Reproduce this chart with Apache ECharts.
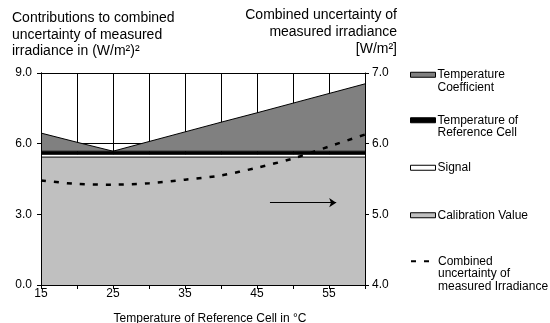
<!DOCTYPE html>
<html>
<head>
<meta charset="utf-8">
<script src="https://cdn.jsdelivr.net/npm/echarts@6/dist/echarts.min.js"></script>
<style>html,body{margin:0;padding:0;background:#fff}#c{width:550px;height:323px}</style>
</head>
<body>
<div id="c"></div>
<script>
// ---- data ----
var temps = [15, 20, 25, 30, 35, 40, 45, 50, 55, 60];
var calibrationValue = [5.43, 5.43, 5.43, 5.43, 5.43, 5.43, 5.43, 5.43, 5.43, 5.43];
var signalValue = [0.12, 0.12, 0.12, 0.12, 0.12, 0.12, 0.12, 0.12, 0.12, 0.12];
var refCellTemp = [0.13, 0.13, 0.13, 0.13, 0.13, 0.13, 0.13, 0.13, 0.13, 0.13];
var tempCoefficient = [0.77, 0.38, 0.0, 0.41, 0.82, 1.23, 1.63, 2.04, 2.45, 2.86];
var combinedUncertainty = [5.48, 5.43, 5.42, 5.44, 5.49, 5.55, 5.66, 5.79, 5.96, 6.13];
var xTickLabels = ['15', '25', '35', '45', '55'];
var leftTicks = [0, 3, 6, 9];
var rightTicks = [4, 5, 6, 7];
var arrowX = [46.8, 56];
var arrowYRight = 5.165;

var FONT = '"Liberation Sans", Arial, sans-serif';
var chart = echarts.init(document.getElementById('c'), null, { renderer: 'canvas' });

function legendFor(name, icon, itemStyle, lines, top, extra) {
  var pre = [];
  for (var i = 1; i < lines.length; i++) pre.push(' ');
  var txt = pre.concat(lines).join('\n');
  var item = { name: name };
  if (icon) item.icon = icon;
  if (itemStyle) item.itemStyle = itemStyle;
  var o = {
    show: true, orient: 'vertical', left: 410, top: top, padding: 0,
    itemWidth: 25, itemHeight: 5, selectedMode: false,
    data: [item],
    formatter: function () { return txt; },
    textStyle: { fontFamily: FONT, fontSize: 12, color: '#000', lineHeight: 12.5, padding: [0, 0, 0, -3] }
  };
  return Object.assign(o, extra || {});
}

var option = {
  animation: false,
  textStyle: { fontFamily: FONT },
  grid: { left: 41, right: 185, top: 73, bottom: 38, containLabel: false, outerBoundsMode: 'none' },
  graphic: [
    { type: 'text', left: 12, top: 10, style: { text: 'Contributions to combined\nuncertainty of measured\nirradiance in (W/m\u00b2)\u00b2', font: '14px ' + FONT, fill: '#000', lineHeight: 16.5 } },
    { type: 'text', x: 397, y: 7, style: { text: 'Combined uncertainty of\nmeasured irradiance\n[W/m\u00b2]', font: '14px ' + FONT, fill: '#000', lineHeight: 17, align: 'right', verticalAlign: 'top' } }
  ],
  legend: [
    legendFor('Temperature Coefficient', 'rect', { color: '#808080', borderColor: '#000', borderWidth: 1 }, ['Temperature', 'Coefficient'], 56),
    legendFor('Temperature of Reference Cell', 'rect', { color: '#000', borderColor: '#000', borderWidth: 1 }, ['Temperature of', 'Reference Cell'], 101.5),
    legendFor('Signal', 'rect', { color: '#fff', borderColor: '#000', borderWidth: 1 }, ['Signal'], 161.5),
    legendFor('Calibration Value', 'rect', { color: '#C0C0C0', borderColor: '#000', borderWidth: 1 }, ['Calibration Value'], 209),
    legendFor('Combined uncertainty of measured Irradiance', null, { opacity: 0 }, ['Combined', 'uncertainty of', 'measured Irradiance'], 230, { itemHeight: 8 })
  ],
  xAxis: [
    {
      type: 'category', data: temps.map(String), boundaryGap: false, position: 'bottom',
      axisLine: { show: true, lineStyle: { color: '#000', width: 1 } },
      axisTick: { show: true, inside: false, length: 4, interval: 0, lineStyle: { color: '#000' } },
      axisLabel: { margin: 3, fontSize: 12, color: '#000', fontFamily: FONT, interval: 0,
        formatter: function (v) { return xTickLabels.indexOf(v) >= 0 ? v : ''; } },
      splitLine: { show: true, interval: 0, lineStyle: { color: '#000', width: 1 } },
      name: 'Temperature of Reference Cell in \u00b0C', nameLocation: 'middle', nameGap: 28,
      nameTextStyle: { fontSize: 12, color: '#000', fontFamily: FONT, padding: [0, 0, 0, 14] }
    },
    {
      type: 'value', min: 15, max: 60, interval: 5, position: 'bottom', z: 10,
      axisLine: { show: true, lineStyle: { color: '#000', width: 1 } },
      axisTick: { show: true, length: 4, lineStyle: { color: '#000' } },
      axisLabel: { show: false }, splitLine: { show: false }
    }
  ],
  yAxis: [
    {
      type: 'value', min: 0, max: 9, interval: 3, position: 'left',
      axisLine: { show: true, lineStyle: { color: '#000' } },
      axisTick: { show: true, length: 4, lineStyle: { color: '#000' } },
      axisLabel: { margin: 9, fontSize: 12, color: '#000', fontFamily: FONT,
        formatter: function (v) { return leftTicks.indexOf(v) >= 0 ? v.toFixed(1) : ''; } },
      splitLine: { show: true, lineStyle: { color: '#000', width: 1 } }
    },
    {
      type: 'value', min: 4, max: 7, interval: 1, position: 'right', z: 10,
      axisLine: { show: true, lineStyle: { color: '#000' } },
      axisTick: { show: true, length: 4, lineStyle: { color: '#000' } },
      axisLabel: { margin: 7, fontSize: 12, color: '#000', fontFamily: FONT,
        formatter: function (v) { return rightTicks.indexOf(v) >= 0 ? v.toFixed(1) : ''; } },
      splitLine: { show: false }
    },
    {
      type: 'value', min: 0, max: 9, interval: 3, position: 'left', z: 10,
      axisLine: { show: true, lineStyle: { color: '#000' } },
      axisTick: { show: true, length: 4, lineStyle: { color: '#000' } },
      axisLabel: { show: false }, splitLine: { show: false }
    }
  ],
  series: [
    {
      name: 'Calibration Value', type: 'line', stack: 'u', symbol: 'none',
      data: calibrationValue, color: '#C0C0C0',
      lineStyle: { color: '#000', width: 1 }, areaStyle: { color: '#C0C0C0', opacity: 1 }
    },
    {
      name: 'Signal', type: 'line', stack: 'u', symbol: 'none',
      data: signalValue, color: '#fff',
      lineStyle: { color: '#000', width: 1 }, areaStyle: { color: '#fff', opacity: 1 }
    },
    {
      name: 'Temperature of Reference Cell', type: 'line', stack: 'u', symbol: 'none',
      data: refCellTemp, color: '#000',
      lineStyle: { color: '#000', width: 1 }, areaStyle: { color: '#000', opacity: 1 }
    },
    {
      name: 'Temperature Coefficient', type: 'line', stack: 'u', symbol: 'none',
      data: tempCoefficient, color: '#808080',
      lineStyle: { color: '#000', width: 1 }, areaStyle: { color: '#808080', opacity: 1 }
    },
    {
      name: 'Combined uncertainty of measured Irradiance', type: 'line', xAxisIndex: 1, yAxisIndex: 1, symbol: 'none',
      smooth: 0.3, data: temps.map(function (t, i) { return [t, combinedUncertainty[i]]; }), color: '#000', z: 5,
      lineStyle: { color: '#000', width: 2.5, type: [5, 8] },
      markLine: {
        silent: true, symbol: ['none', 'arrow'], symbolSize: 7, label: { show: false },
        lineStyle: { color: '#000', width: 1, type: 'solid' },
        data: [[{ coord: [arrowX[0], arrowYRight] }, { coord: [arrowX[1], arrowYRight] }]]
      }
    }
  ]
};
chart.setOption(option);
</script>
</body>
</html>
